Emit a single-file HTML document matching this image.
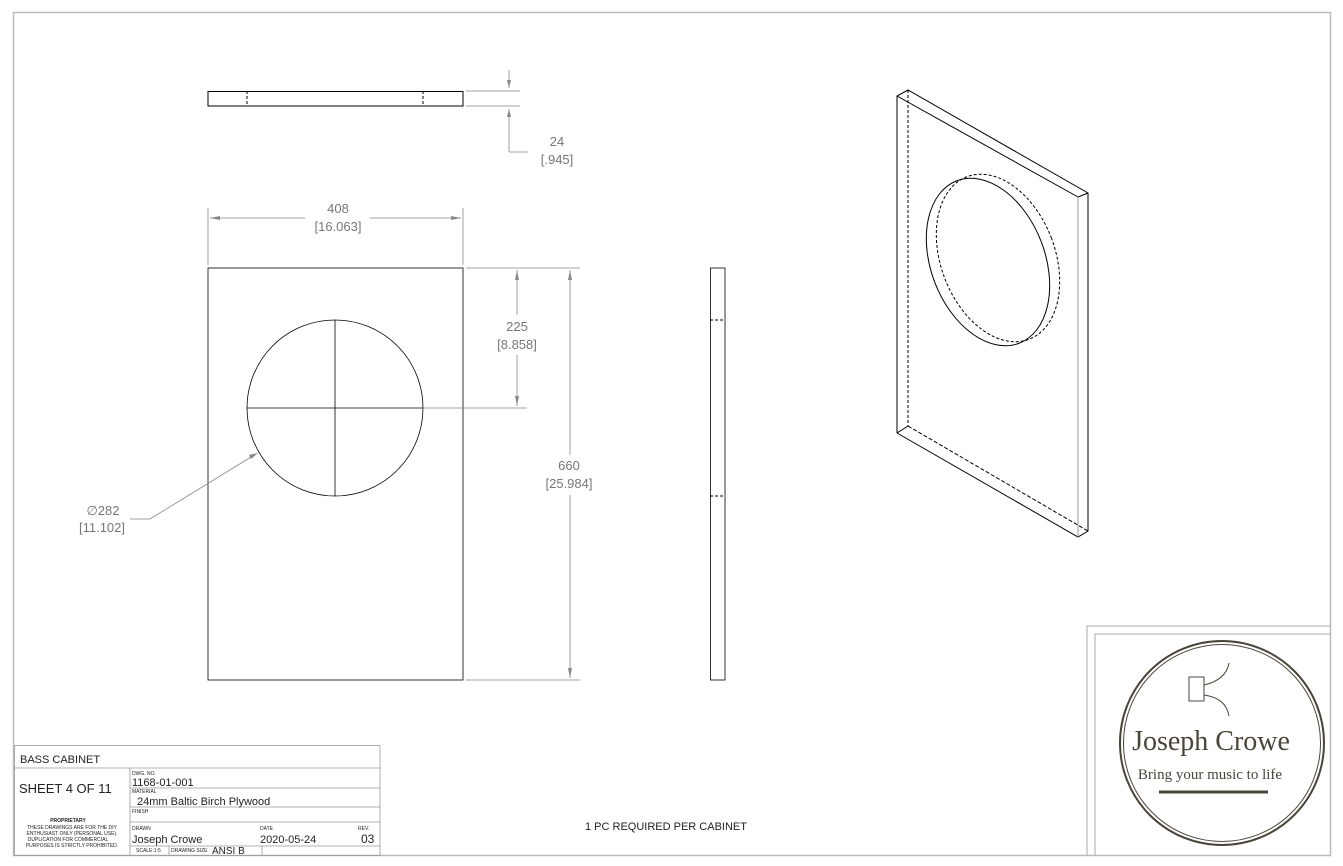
<!DOCTYPE html>
<html><head><style>
body{margin:0;background:#fff}
svg{display:block}
text{font-family:"Liberation Sans",sans-serif}
text.serif{font-family:"Liberation Serif",serif}
</style></head><body>
<svg width="1343" height="866" viewBox="0 0 1343 866" xmlns="http://www.w3.org/2000/svg">
<rect x="13.5" y="12.5" width="1317" height="843" fill="none" stroke="#bbb" stroke-width="1.5"/>
<g fill="none" stroke="#000" stroke-width="1">
<rect x="208" y="91.5" width="255" height="14.5"/>
<line x1="247" y1="91" x2="247" y2="106" stroke-dasharray="3,2"/>
<line x1="423" y1="91" x2="423" y2="106" stroke-dasharray="3,2"/>
<rect x="208" y="268" width="255" height="412" stroke-width="0.8"/>
<circle cx="335" cy="408" r="88" stroke-width="0.8"/>
<line x1="247" y1="408" x2="423" y2="408" stroke-width="0.8"/>
<line x1="335" y1="320" x2="335" y2="496" stroke-width="0.8"/>
<rect x="710.5" y="268" width="14.5" height="412" stroke-width="0.8"/>
<line x1="710" y1="320" x2="725" y2="320" stroke-dasharray="3,2"/>
<line x1="710" y1="496" x2="725" y2="496" stroke-dasharray="3,2"/>
<polyline points="897,433 897,96 908,90 1088,193 1088,531 1078,537 897,433"/>
<line x1="897" y1="96" x2="1078" y2="197"/>
<line x1="1078" y1="197" x2="1088" y2="193"/>
<line x1="1078" y1="197" x2="1078" y2="537" stroke="#999"/>
<line x1="897" y1="433" x2="908" y2="426"/>
<line x1="908" y1="90" x2="908" y2="426" stroke-dasharray="3,2"/>
<line x1="908" y1="426" x2="1088" y2="531" stroke-dasharray="4,2"/>
<ellipse cx="988" cy="262" rx="57" ry="87" transform="rotate(-21 988 262)"/>
<ellipse cx="998" cy="258" rx="57" ry="87" transform="rotate(-21 998 258)" stroke-dasharray="3,2"/>
</g>
<g stroke="#888" stroke-width="0.8" fill="none">
<line x1="466" y1="91" x2="520" y2="91"/><line x1="466" y1="106" x2="520" y2="106"/>
<line x1="509" y1="70" x2="509" y2="88"/><line x1="509" y1="109" x2="509" y2="152"/><line x1="509" y1="152" x2="528" y2="152"/>
<line x1="208" y1="208" x2="208" y2="265"/><line x1="463" y1="208" x2="463" y2="265"/>
<line x1="210" y1="218" x2="305" y2="218"/><line x1="370" y1="218" x2="461" y2="218"/>
<line x1="466" y1="268" x2="580" y2="268"/><line x1="466" y1="680" x2="580" y2="680"/>
<line x1="424" y1="408" x2="527" y2="408"/>
<line x1="517" y1="270" x2="517" y2="315"/><line x1="517" y1="355" x2="517" y2="406"/>
<line x1="570" y1="270" x2="570" y2="455"/><line x1="570" y1="495" x2="570" y2="678"/>
<polyline points="130,519 150,519 256,454"/>
</g>
<g fill="#888">
<polygon points="509,88 507,80 511,80"/><polygon points="509,109 507,117 511,117"/>
<polygon points="210,218 220,216 220,220"/><polygon points="461,218 451,216 451,220"/>
<polygon points="517,270 515,280 519,280"/><polygon points="517,406 515,396 519,396"/>
<polygon points="570,270 568,280 572,280"/><polygon points="570,678 568,668 572,668"/>
<polygon points="258,453 249,455 251,459"/>
</g>
<g fill="#777" font-size="13" text-anchor="middle">
<text x="557" y="146">24</text><text x="557" y="164">[.945]</text>
<text x="338" y="213">408</text><text x="338" y="231">[16.063]</text>
<text x="517" y="331">225</text><text x="517" y="349">[8.858]</text>
<text x="569" y="470">660</text><text x="569" y="488">[25.984]</text>
<text x="103" y="515">∅282</text><text x="102" y="532">[11.102]</text>
</g>
<g stroke="#999" stroke-width="0.8" fill="none">
<rect x="14.5" y="745.5" width="365.5" height="110"/>
<line x1="14" y1="768" x2="380" y2="768"/>
<line x1="130" y1="768" x2="130" y2="855"/>
<line x1="130" y1="788" x2="380" y2="788"/>
<line x1="130" y1="807" x2="380" y2="807"/>
<line x1="130" y1="822" x2="380" y2="822"/>
<line x1="130" y1="846" x2="380" y2="846"/>
<line x1="169" y1="846" x2="169" y2="855"/>
<line x1="262" y1="846" x2="262" y2="855"/>
</g>
<g fill="#222">
<text x="20" y="763" font-size="11">BASS CABINET</text>
<text x="19" y="793" font-size="13">SHEET 4 OF 11</text>
<text x="132" y="775" font-size="5">DWG. NO.</text>
<text x="132" y="786" font-size="11">1168-01-001</text>
<text x="132" y="793" font-size="5">MATERIAL</text>
<text x="137" y="805" font-size="11">24mm Baltic Birch Plywood</text>
<text x="132" y="813" font-size="5">FINISH</text>
<text x="132" y="830" font-size="5">DRAWN</text>
<text x="132" y="843" font-size="11">Joseph Crowe</text>
<text x="260" y="830" font-size="5">DATE</text>
<text x="260" y="843" font-size="11">2020-05-24</text>
<text x="358" y="830" font-size="5">REV.</text>
<text x="361" y="843" font-size="12">03</text>
<text x="136" y="852" font-size="5">SCALE:1:5</text>
<text x="171" y="852" font-size="5">DRAWING SIZE</text>
<text x="212" y="854" font-size="10">ANSI B</text>
<g font-size="5" text-anchor="middle"><text x="68" y="822" font-weight="bold">PROPRIETARY</text>
<text x="72" y="829">THESE DRAWINGS ARE FOR THE DIY</text>
<text x="72" y="835">ENTHUSIAST ONLY (PERSONAL USE).</text>
<text x="68" y="841">DUPLICATION FOR COMMERCIAL</text>
<text x="72" y="847">PURPOSES IS STRICTLY PROHIBITED.</text></g>
<text x="666" y="830" font-size="11" text-anchor="middle">1 PC REQUIRED PER CABINET</text>
</g>
<g fill="none" stroke="#aaa" stroke-width="1">
<polyline points="1087,855 1087,626 1330,626"/>
<polyline points="1095,855 1095,634 1330,634"/>
</g>
<g fill="none" stroke="#4a4538">
<circle cx="1222" cy="743" r="102" stroke-width="2"/>
<circle cx="1222" cy="743" r="98.5" stroke-width="1"/>
<rect x="1189" y="677" width="15" height="24" stroke-width="1"/>
<path d="M1204 685 Q1226 680 1229 663" stroke-width="1"/>
<path d="M1204 695 Q1226 698 1229 716" stroke-width="1"/>
<line x1="1159" y1="792" x2="1268" y2="792" stroke-width="3"/>
</g>
<g fill="#4a4538" text-anchor="middle">
<text class="serif" x="1211" y="750" font-size="28">Joseph Crowe</text>
<text class="serif" x="1210" y="779" font-size="15">Bring your music to life</text>
</g>
</svg>
</body></html>
